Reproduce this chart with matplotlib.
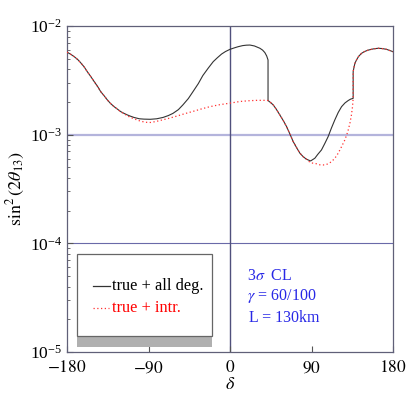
import matplotlib
matplotlib.use("Agg")
import matplotlib.pyplot as plt
from matplotlib.patches import Rectangle

plt.rcParams['font.family'] = ['Liberation Serif', 'DejaVu Serif']
plt.rcParams['mathtext.fontset'] = 'stix'

# curva negra: true + all deg.  (sin^2(2theta13) en unidades de 1e-3)
delta_all = [-180, -176, -172, -168, -165, -161, -157.6, -154, -150, -146, -142.8,
             -139, -135.5, -132, -128, -124, -120.7, -117, -113.4, -110, -106, -100,
             -95, -88, -81, -74, -68, -63, -57, -52, -46, -41, -35, -30, -24, -18.5,
             -14, -9.3, -5, 0, 5, 9, 14, 18, 22, 27, 33, 36, 38.5, 40.5, 42,
             42, 45, 47.7, 51, 55, 59, 62.4, 66, 69.8, 73.5, 77.2, 81, 84.5, 89,
             93.7, 97, 101, 104.7, 108.4, 112, 115.8, 119.5, 123.2, 127, 130.5, 133, 136,
             136, 137, 138, 139.7, 142, 145.2, 148.5, 152.6, 158, 163.6, 168, 172.8, 176, 180]
s_all = [5.75, 5.5, 5.22, 4.9, 4.6, 4.2, 3.8, 3.45, 3.08, 2.76, 2.49,
         2.28, 2.09, 1.94, 1.81, 1.71, 1.63, 1.57, 1.52, 1.48, 1.44, 1.40,
         1.39, 1.385, 1.40, 1.44, 1.50, 1.57, 1.70, 1.88, 2.15, 2.48, 2.95, 3.5, 4.1, 4.7,
         5.1, 5.52, 5.82, 6.1, 6.3, 6.45, 6.6, 6.66, 6.68, 6.55, 6.24, 6.0, 5.69, 5.3, 4.87,
         2.06, 1.97, 1.88, 1.72, 1.52, 1.34, 1.19, 1.02, 0.863, 0.76, 0.675, 0.625, 0.594, 0.573,
         0.607, 0.66, 0.723, 0.83, 0.96, 1.15, 1.37, 1.6, 1.81, 1.96, 2.06, 2.12, 2.16,
         3.8, 4.2, 4.55, 4.87, 5.25, 5.6, 5.82, 6.0, 6.15, 6.24, 6.2, 6.1, 5.97, 5.8]

# curva roja: true + intr.
delta_intr = [-180, -176, -172, -168, -165, -161, -157.6, -154, -150, -146, -142.8,
              -139, -135.5, -132, -128, -124, -120.7, -117, -113.4, -109.7, -104, -98.7,
              -93, -88, -82, -77.4, -68, -59, -50, -40.6, -31, -22.2, -11, 0, 11, 20,
              30, 40, 42, 45, 47.7, 51, 55, 59, 62.4, 66, 69.8, 73.5, 77.2, 81, 84.5,
              89, 93.7, 99.2, 104.8, 108.5, 112.2, 116, 119.5, 123, 126.8, 130, 132.4,
              134, 135.3, 136, 136, 137, 138, 139.7, 142, 145.2, 148.5, 152.6, 158,
              163.6, 168, 172.8, 176, 180]
s_intr = [5.75, 5.5, 5.22, 4.9, 4.6, 4.2, 3.8, 3.45, 3.08, 2.76, 2.49,
          2.28, 2.09, 1.94, 1.81, 1.71, 1.62, 1.56, 1.49, 1.44, 1.38, 1.33,
          1.30, 1.295, 1.32, 1.35, 1.41, 1.48, 1.56, 1.64, 1.73, 1.81, 1.89, 1.95, 2.02, 2.05,
          2.07, 2.07, 2.06, 1.97, 1.88, 1.72, 1.52, 1.34, 1.19, 1.02, 0.863, 0.76, 0.675, 0.625, 0.594,
          0.55, 0.545, 0.528, 0.526, 0.54, 0.565, 0.61, 0.675, 0.77, 0.893, 1.06, 1.27,
          1.5, 1.81, 2.16, 3.8, 4.2, 4.55, 4.87, 5.25, 5.6, 5.82, 6.0, 6.15,
          6.24, 6.2, 6.1, 5.97, 5.8]

xticks = [-180, -90, 0, 90, 180]

fig = plt.figure(figsize=(4.09, 4.09), dpi=100)
ax = fig.add_axes([67 / 409, 57 / 409, 326 / 409, 326 / 409])

ax.axhline(1e-3, color='#b4b4dc', lw=1.6, zorder=1)
ax.axhline(1e-4, color='#6a6aa8', lw=0.8, zorder=1)
ax.axvline(0, color='#50507c', lw=1.0, zorder=1)

ax.plot(delta_all, [v * 1e-3 for v in s_all], color='#333333', lw=0.8, zorder=3)
ax.plot(delta_intr, [v * 1e-3 for v in s_intr], color='#ff3030', lw=0.9,
        linestyle=(0, (1, 2)), zorder=4)

ax.set_yscale('log')
ax.set_xlim(-180, 180)
ax.set_ylim(1e-5, 1e-2)
ax.set_xticks(xticks)
ax.set_xticklabels([f'${t}$' for t in xticks])
ax.tick_params(which='both', direction='in', top=False, right=False,
               labelsize=12.5, color='#555555')
ax.tick_params(axis='x', pad=6)
ax.tick_params(which='major', length=4)
ax.tick_params(which='minor', length=2)
for s in ax.spines.values():
    s.set_color('#606078')
    s.set_linewidth(0.9)

ax.set_xlabel(r'$\delta$', fontsize=13, labelpad=0)
ax.set_ylabel(r'$\sin^2(2\theta_{13})$', fontsize=13, labelpad=2)

# caja de leyenda
ax.add_patch(Rectangle((0.031, 0.0153), 0.414, 0.034, transform=ax.transAxes,
                       facecolor='#b0b0b0', edgecolor='none', zorder=5))
ax.add_patch(Rectangle((0.031, 0.049), 0.414, 0.252, transform=ax.transAxes,
                       facecolor='white', edgecolor='#666666', lw=0.9, zorder=5))
ax.plot([0.08, 0.132], [0.2025, 0.2025], transform=ax.transAxes,
        color='#333333', lw=0.9, zorder=6)
ax.plot([0.08, 0.128], [0.135, 0.135], transform=ax.transAxes,
        color='#ff3030', lw=0.9, linestyle=(0, (1, 2)), zorder=6)
ax.text(0.138, 0.2025, 'true + all deg.', transform=ax.transAxes,
        fontsize=11.8, va='center', zorder=6)
ax.text(0.138, 0.135, 'true + intr.', transform=ax.transAxes,
        fontsize=11.8, va='center', color='red', zorder=6)

blue = '#2828e6'
ax.text(0.552, 0.233, r'3$\sigma$  CL', transform=ax.transAxes,
        fontsize=11.5, va='center', color=blue)
ax.text(0.552, 0.172, r'$\gamma$ = 60/100', transform=ax.transAxes,
        fontsize=11.5, va='center', color=blue)
ax.text(0.558, 0.104, 'L = 130km', transform=ax.transAxes,
        fontsize=11.5, va='center', color=blue)

fig.savefig('out.png', dpi=100)
